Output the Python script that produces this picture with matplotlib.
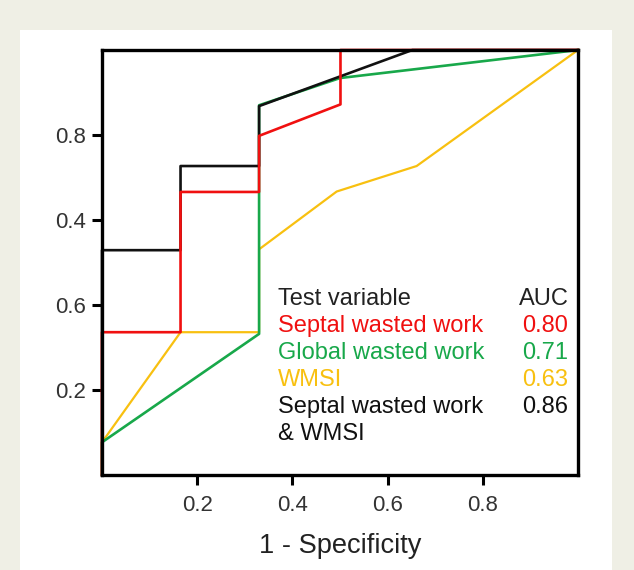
import matplotlib.pyplot as plt
from matplotlib.patches import Rectangle

plt.rcParams['font.family'] = ['Liberation Sans', 'DejaVu Sans']

# ROC curves (1 - specificity, sensitivity)
septal_x = [0, 0, 0.165, 0.165, 0.33, 0.33, 0.501, 0.501, 1]
septal_y = [0, 0.336, 0.336, 0.666, 0.666, 0.798, 0.872, 1, 1]

global_x = [0, 0, 0.33, 0.33, 0.5, 1]
global_y = [0, 0.077, 0.332, 0.87, 0.934, 1]

wmsi_x = [0, 0, 0.165, 0.33, 0.33, 0.493, 0.661, 1]
wmsi_y = [0, 0.077, 0.336, 0.336, 0.531, 0.667, 0.727, 1]

combo_x = [0, 0, 0.165, 0.165, 0.33, 0.33, 0.652, 1]
combo_y = [0, 0.529, 0.529, 0.727, 0.727, 0.868, 1, 1]

x_ticks = [0.2, 0.4, 0.6, 0.8]
y_ticks = [0.2, 0.4, 0.6, 0.8]
y_tick_labels = ['0.2', '0.6', '0.4', '0.8']  # as printed in the original

names = ['Septal wasted work', 'Global wasted work', 'WMSI', 'Septal wasted work\n& WMSI']
aucs = ['0.80', '0.71', '0.63', '0.86']
colors = ['#f01010', '#18a84a', '#f8c010', '#111111']

fig = plt.figure(figsize=(6.34, 5.7), dpi=100, facecolor='#efefe5')
fig.patches.append(Rectangle((20 / 634, 0), 592 / 634, 540 / 570,
                             transform=fig.transFigure, facecolor='white',
                             edgecolor='none', zorder=-10))

ax = fig.add_axes([102 / 634, 95 / 570, 476 / 634, 425 / 570])
ax.set_facecolor('white')

lw = 1.9
ax.plot(wmsi_x, wmsi_y, color=colors[2], lw=1.6, clip_on=False)
ax.plot(global_x, global_y, color=colors[1], lw=lw, clip_on=False)
ax.plot(combo_x, combo_y, color=colors[3], lw=lw, clip_on=False)
ax.plot(septal_x, septal_y, color=colors[0], lw=lw, clip_on=False)

ax.set_xlim(0, 1)
ax.set_ylim(0, 1)
ax.set_xticks(x_ticks)
ax.set_yticks(y_ticks)
ax.set_yticklabels(y_tick_labels)
ax.tick_params(length=7.5, width=2.2, labelsize=16, labelcolor='#333333')
ax.tick_params(axis='x', pad=7)
ax.tick_params(axis='y', pad=4)
for s in ax.spines.values():
    s.set_linewidth(2.4)
ax.set_xlabel('1 - Specificity', fontsize=19.6, color='#222222', labelpad=12)

# in-plot legend table
tx, ax_x, ty, dy = 0.37, 0.98, 0.415, 0.0635
ax.text(tx, ty, 'Test variable', fontsize=17, color='#222222', va='center', transform=ax.transAxes)
ax.text(ax_x, ty, 'AUC', fontsize=17, color='#222222', va='center', ha='right', transform=ax.transAxes)
for i, (n, a, c) in enumerate(zip(names, aucs, colors)):
    yy = ty - dy * (i + 1)
    lines = n.split('\n')
    for j, ln in enumerate(lines):
        ax.text(tx, yy - dy * j, ln, fontsize=17, color=c, va='center', transform=ax.transAxes)
    ax.text(ax_x, yy, a, fontsize=17, color=c, va='center', ha='right', transform=ax.transAxes)

fig.savefig('out.png', dpi=100, facecolor=fig.get_facecolor())
